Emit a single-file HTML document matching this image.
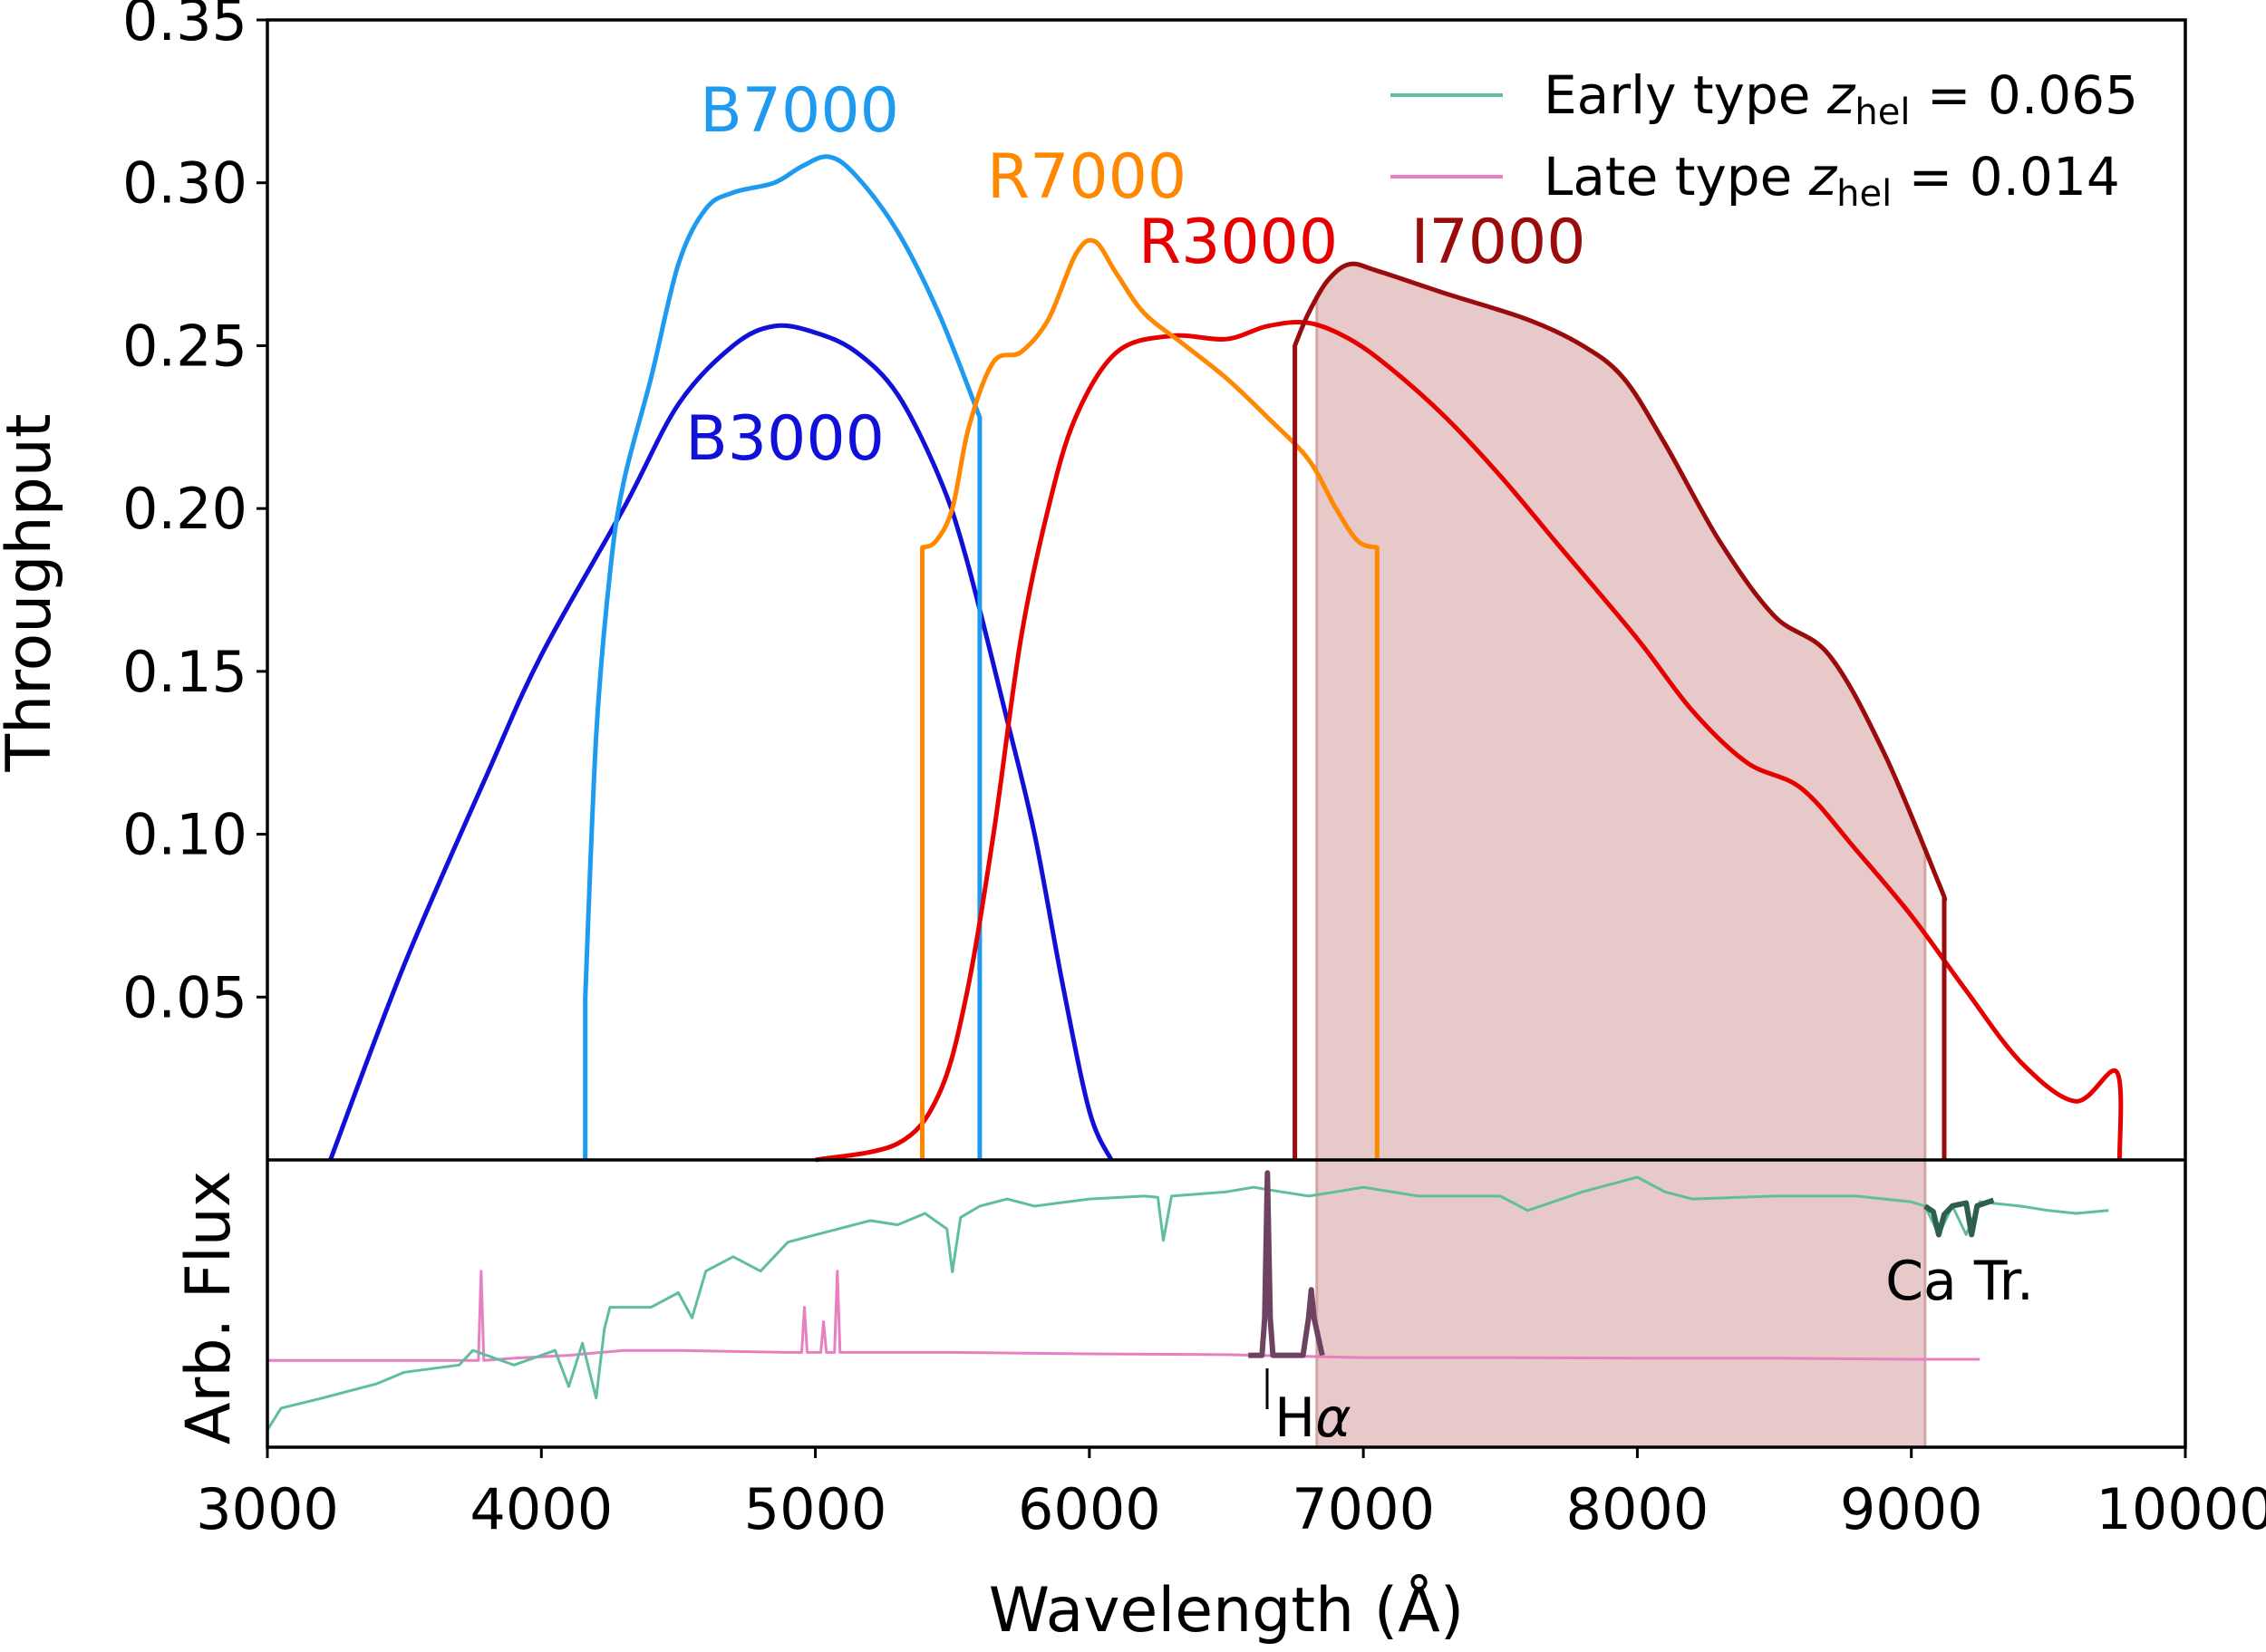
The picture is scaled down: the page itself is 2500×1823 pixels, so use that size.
<!DOCTYPE html>
<html><head><meta charset="utf-8"><style>
html,body{margin:0;padding:0;background:#fff;}
svg{display:block;font-family:"DejaVu Sans","Liberation Sans",sans-serif;}
</style></head><body>
<svg id="chart" width="2500" height="1823" viewBox="0 0 2500 1823" xmlns="http://www.w3.org/2000/svg">
<g id="shade"></g>
<g id="curves"></g>
<g id="spectra"></g>
<g id="axes"></g>
</svg>
<script>
// ---------- data ----------
const b3000Wl = [3230,3500,3800,4000,4300,4500,4700,4850,5000,5150,5300,5450,5550,5700,5800,5900,6000,6080];
const b3000T  = [0,0.06,0.118,0.155,0.2,0.232,0.25,0.256,0.254,0.248,0.235,0.21,0.185,0.135,0.1,0.055,0.015,0];
const b7000Wl = [4160,4160,4200,4250,4300,4400,4500,4600,4700,4850,4950,5050,5150,5300,5450,5600,5600];
const b7000T  = [0,0.05,0.13,0.18,0.208,0.24,0.275,0.292,0.297,0.3,0.305,0.308,0.302,0.285,0.26,0.228,0];
const r7000Wl = [5390,5390,5440,5500,5560,5650,5750,5850,5950,6020,6100,6200,6350,6500,6650,6800,6900,6980,7050,7050];
const r7000T  = [0,0.188,0.19,0.2,0.225,0.245,0.248,0.258,0.278,0.282,0.272,0.26,0.25,0.24,0.228,0.215,0.2,0.19,0.188,0];
const r3000Wl = [5000,5300,5450,5550,5650,5750,5850,5950,6100,6300,6500,6650,6800,6950,7100,7300,7500,7700,8000,8200,8400,8600,8800,9000,9200,9400,9600,9750,9760];
const r3000T  = [0,0.005,0.02,0.05,0.1,0.16,0.2,0.228,0.248,0.253,0.252,0.256,0.257,0.252,0.243,0.228,0.21,0.19,0.16,0.138,0.122,0.114,0.095,0.075,0.052,0.03,0.018,0.027,0];
const i7000Wl = [6750,6750,6800,6870,6950,7050,7300,7600,7800,7950,8100,8300,8500,8700,8900,9100,9120,9120];
const i7000T  = [0,0.25,0.26,0.27,0.275,0.273,0.266,0.258,0.25,0.24,0.22,0.19,0.167,0.155,0.125,0.085,0.08,0];
const earlyWl = [3000,3050,3200,3400,3500,3700,3750,3900,4050,4100,4150,4200,4230,4250,4400,4500,4550,4600,4700,4800,4900,5000,5100,5200,5300,5400,5480,5500,5530,5600,5700,5800,6000,6200,6250,6270,6300,6500,6600,6700,6800,6900,7000,7200,7500,7600,7800,8000,8100,8200,8500,8800,9000,9050,9100,9150,9200,9250,9400,9500,9600,9720];
const earlyF  = [0.06,0.136,0.171,0.221,0.261,0.286,0.337,0.286,0.337,0.211,0.362,0.171,0.412,0.487,0.487,0.538,0.45,0.613,0.663,0.613,0.714,0.739,0.764,0.789,0.774,0.814,0.76,0.61,0.8,0.839,0.864,0.839,0.864,0.874,0.87,0.72,0.874,0.889,0.905,0.889,0.874,0.889,0.905,0.874,0.874,0.824,0.889,0.94,0.889,0.864,0.874,0.874,0.854,0.839,0.74,0.839,0.74,0.854,0.839,0.824,0.814,0.824];
const lateWl  = [3000,3500,3700,3770,3780,3790,3900,4100,4300,4500,4900,4950,4960,4970,5020,5030,5040,5070,5080,5090,5500,6000,6500,7000,7500,8000,8500,9000,9250];
const lateF   = [0.302,0.302,0.302,0.302,0.613,0.302,0.31,0.32,0.337,0.337,0.33,0.33,0.487,0.33,0.33,0.437,0.33,0.33,0.613,0.33,0.33,0.325,0.322,0.312,0.312,0.31,0.31,0.306,0.306];
const haWl    = [6580,6630,6640,6650,6660,6670,6700,6780,6800,6810,6820,6850];
const haF     = [0.32,0.32,0.45,0.955,0.45,0.32,0.32,0.32,0.45,0.548,0.45,0.32];
const caWl    = [9050,9080,9100,9120,9150,9200,9220,9240,9300];
const caF     = [0.839,0.82,0.74,0.81,0.84,0.85,0.74,0.84,0.86];
const xTicks  = [3000,4000,5000,6000,7000,8000,9000,10000];
const yTicks  = [0.05,0.10,0.15,0.20,0.25,0.30,0.35];
const shadeRange = [6830,9050];

// ---------- scales ----------
const L=295,R=2411,T=22,MID=1280,B=1597;
const X = w => L+(w-3000)/7000*(R-L);
const Y = t => MID - t/0.35*(MID-T);
const YF = f => B - f*(B-MID);
const NS="http://www.w3.org/2000/svg";
function mk(tag, attrs, parent){const e=document.createElementNS(NS,tag);for(const k in attrs)e.setAttribute(k,attrs[k]);parent.appendChild(e);return e;}
function pts(ws, vs, fy){return ws.map((w,i)=>X(w).toFixed(1)+","+fy(vs[i]).toFixed(1)).join(" ");}
function cr(P){ // catmull-rom through points, returns path segments (no M)
  let d='';
  for(let i=0;i<P.length-1;i++){
    const p0=P[Math.max(0,i-1)],p1=P[i],p2=P[i+1],p3=P[Math.min(P.length-1,i+2)];
    const c1=[p1[0]+(p2[0]-p0[0])/6,p1[1]+(p2[1]-p0[1])/6];
    const c2=[p2[0]-(p3[0]-p1[0])/6,p2[1]-(p3[1]-p1[1])/6];
    d+=` C${c1[0].toFixed(1)},${c1[1].toFixed(1)} ${c2[0].toFixed(1)},${c2[1].toFixed(1)} ${p2[0].toFixed(1)},${p2[1].toFixed(1)}`;
  }
  return d;
}
function smoothPath(ws,vs){
  let P=ws.map((w,i)=>[X(w),Y(vs[i])]);
  let d='M'+P[0][0].toFixed(1)+','+P[0][1].toFixed(1);
  let s=0,e=P.length-1;
  if(ws[0]===ws[1]){d+=' L'+P[1][0].toFixed(1)+','+P[1][1].toFixed(1);s=1;}
  const lastV = ws[e]===ws[e-1];
  if(lastV)e=e-1;
  d+=cr(P.slice(s,e+1));
  if(lastV)d+=' L'+P[e+1][0].toFixed(1)+','+P[e+1][1].toFixed(1);
  return d;
}
function interp(ws,vs,w){for(let i=0;i<ws.length-1;i++){if(ws[i]<=w&&ws[i+1]>=w&&ws[i+1]>ws[i]){return vs[i]+(vs[i+1]-vs[i])*(w-ws[i])/(ws[i+1]-ws[i]);}}return 0;}

// shade: under I7000 in top panel, full in lower panel
const shg=document.getElementById('shade');
const sw=[shadeRange[0]],sv=[interp(i7000Wl,i7000T,shadeRange[0])];
i7000Wl.forEach((w,i)=>{if(w>shadeRange[0]&&w<shadeRange[1]&&i>1){sw.push(w);sv.push(i7000T[i]);}});
sw.push(shadeRange[1]);sv.push(interp(i7000Wl,i7000T,shadeRange[1]));
const SP=sw.map((w,i)=>[X(w),Y(sv[i])]);
let sd='M'+X(shadeRange[0]).toFixed(1)+','+B+' L'+SP[0][0].toFixed(1)+','+SP[0][1].toFixed(1)+cr(SP)+' L'+X(shadeRange[1]).toFixed(1)+','+B+' Z';
const sh=mk('path',{d:sd,fill:'#e8c9c9',stroke:'#d4a5a5','stroke-width':3},shg);



// curves
const cg=document.getElementById('curves');
const curves=[[b3000Wl,b3000T,'#1010d8','b3000-curve'],[b7000Wl,b7000T,'#1e9bf0','b7000-curve'],[r3000Wl,r3000T,'#e60000','r3000-curve'],[r7000Wl,r7000T,'#ff8800','r7000-curve'],[i7000Wl,i7000T,'#9a0c0c','i7000-curve']];
curves.forEach(c=>{
  const p=mk('path',{d:smoothPath(c[0],c[1]),fill:'none',stroke:c[2],'stroke-width':5,'stroke-linejoin':'round'},cg);
  
  
});
const labels=[['B7000',882,145,'#1e9bf0'],['R7000',1199,218,'#ff8800'],['R3000',1366,290,'#e60000'],['I7000',1653,290,'#9a0c0c'],['B3000',866,507,'#1010d8']];
labels.forEach(l=>{
  const t=mk('text',{x:l[1],y:l[2],'text-anchor':'middle','font-size':68,fill:l[3]},cg);
  t.textContent=l[0];
  
  
});

// spectra
const sg=document.getElementById('spectra');
const spec=[[lateWl,lateF,'#e77fc0',3,'late-type-spectrum'],[earlyWl,earlyF,'#5fbf9c',3,'early-type-spectrum'],[haWl,haF,'#6e4361',6,'h-alpha-highlight'],[caWl,caF,'#2f5e50',6,'ca-triplet-highlight']];
spec.forEach(s=>{
  const p=mk('polyline',{points:pts(s[0],s[1],YF),fill:'none',stroke:s[2],'stroke-width':s[3],'stroke-linejoin':'round'},sg);
  
  
});
const hl=mk('line',{x1:1398,y1:1510,x2:1398,y2:1555,stroke:'#000','stroke-width':3},sg);


const ht=mk('text',{x:1406,y:1585,'font-size':60,fill:'#000'},sg);
ht.innerHTML='H<tspan font-style="italic">α</tspan>';


const ct=mk('text',{x:2162,y:1434,'text-anchor':'middle','font-size':60,fill:'#000'},sg);
ct.textContent='Ca Tr.';



// axes
const ag=document.getElementById('axes');
const fr=mk('rect',{x:L,y:T,width:R-L,height:B-T,fill:'none',stroke:'#000','stroke-width':3.5},ag);


const dv=mk('line',{x1:L,y1:MID,x2:R,y2:MID,stroke:'#000','stroke-width':3.5},ag);


xTicks.forEach(v=>{
  const tk=mk('line',{x1:X(v),y1:B,x2:X(v),y2:B+12,stroke:'#000','stroke-width':3},ag);
  
  
  const t=mk('text',{x:X(v),y:B+90,'text-anchor':'middle','font-size':62,fill:'#000'},ag);
  t.textContent=v;
  
  
});
yTicks.forEach(v=>{
  const tk=mk('line',{x1:L-12,y1:Y(v),x2:L,y2:Y(v),stroke:'#000','stroke-width':3},ag);
  
  
  const t=mk('text',{x:L-22,y:Y(v)+22,'text-anchor':'end','font-size':62,fill:'#000'},ag);
  t.textContent=v.toFixed(2);
  
  
});
const xl=mk('text',{x:1353,y:1800,'text-anchor':'middle','font-size':68,fill:'#000'},ag);
xl.textContent='Wavelength (Å)';


const yl=mk('text',{x:0,y:0,'text-anchor':'middle','font-size':68,fill:'#000',transform:'translate(55,654) rotate(-90)'},ag);
yl.textContent='Throughput';


const yl2=mk('text',{x:0,y:0,'text-anchor':'middle','font-size':68,fill:'#000',transform:'translate(253,1443) rotate(-90)'},ag);
yl2.textContent='Arb. Flux';



// legend
const leg=[['Early type ','0.065','#5fbf9c',105],['Late type ','0.014','#e77fc0',195]];
leg.forEach((e,i)=>{
  const ln=mk('line',{x1:1534,y1:e[3],x2:1658,y2:e[3],stroke:e[2],'stroke-width':4},ag);
  
  
  const t=mk('text',{x:1703,y:e[3]+20,'font-size':58,fill:'#000'},ag);
  t.innerHTML=e[0]+'<tspan font-style="italic">z</tspan><tspan font-size="40" dy="12">hel</tspan><tspan dy="-12"> = '+e[1]+'</tspan>';
  
  
});
</script>
</body></html>
